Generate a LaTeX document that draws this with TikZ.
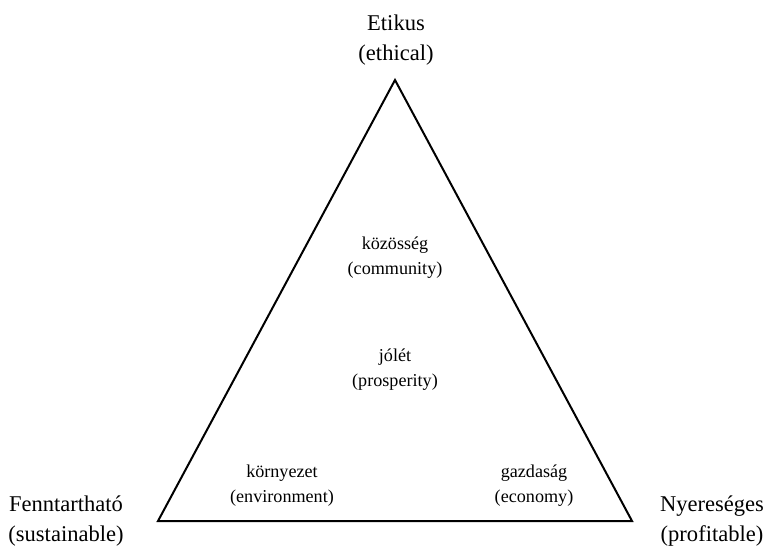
\documentclass[tikz,border=0pt]{standalone}
\usepackage{fontspec}
\setmainfont{Liberation Serif}
\begin{document}
\begin{tikzpicture}[x=0.75pt,y=-0.75pt,
  corner/.style={align=center,font=\fontsize{16.9pt}{22.5pt}\selectfont,inner sep=0pt},
  inner/.style={align=center,font=\fontsize{13.6pt}{18.75pt}\selectfont,inner sep=0pt},
  edge/.style={draw=black,line width=1.5pt,line join=miter}]
  \useasboundingbox (0,0) rectangle (766,546);
  % triangle vertices
  \coordinate (top) at (395,80);
  \coordinate (bl) at (158,521);
  \coordinate (br) at (632,521);
  \draw[edge] (top) -- (br) -- (bl) -- cycle;
  % corner labels
  \node[corner] (eth) at (396,40) {Etikus\\(ethical)};
  \node[corner] (sus) at (66,521) {Fenntartható\\(sustainable)};
  \node[corner] (pro) at (712,521) {Nyereséges\\(profitable)};
  % inner labels
  \node[inner] (com) at (395,258) {közösség\\(community)};
  \node[inner] (pros) at (395,370) {jólét\\(prosperity)};
  \node[inner] (env) at (282,486) {környezet\\(environment)};
  \node[inner] (eco) at (534,486) {gazdaság\\(economy)};
\end{tikzpicture}
\end{document}
